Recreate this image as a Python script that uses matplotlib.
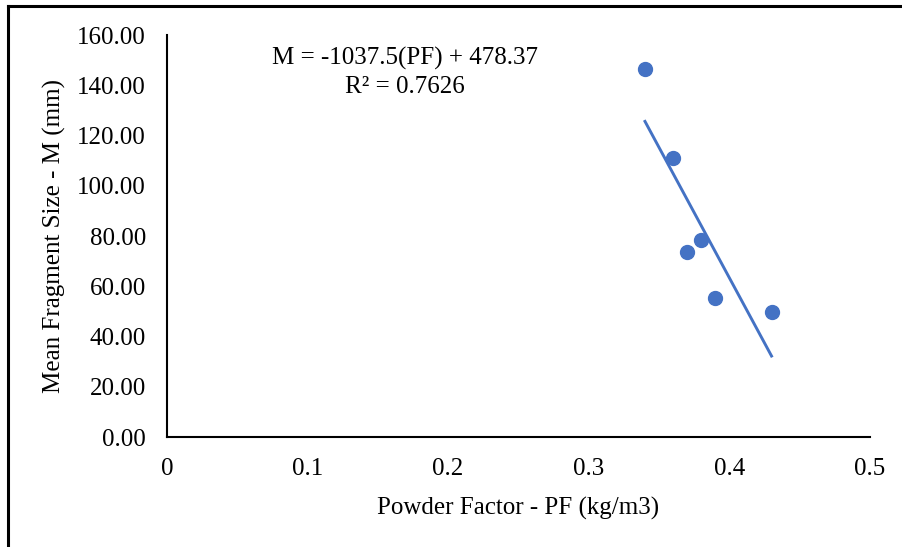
import numpy as np
import matplotlib.pyplot as plt
from matplotlib.lines import Line2D

plt.rcParams['font.family'] = ['Liberation Serif', 'DejaVu Serif']

# данные: удельный расход ВВ и средний размер куска
pf = [0.34, 0.36, 0.37, 0.38, 0.39, 0.43]
m = [146.5, 111.0, 73.6, 78.4, 55.3, 49.8]

slope = -1037.5
intercept = 478.37

fig = plt.figure(figsize=(9.02, 5.47), dpi=100)
ax = fig.add_axes([0.185, 0.201, 0.7795, 0.735])

blue = '#4472C4'
ax.plot(pf, m, 'o', color=blue, markersize=10, zorder=3)

# линия тренда
xt = np.array([min(pf), max(pf)])
ax.plot(xt, slope * xt + intercept, color=blue, linewidth=2.1, zorder=2)

ax.set_xlim(0, 0.5)
ax.set_ylim(0, 160)
ax.set_xticks([0, 0.1, 0.2, 0.3, 0.4, 0.5])
ax.set_xticklabels(['0', '0.1', '0.2', '0.3', '0.4', '0.5'])
ax.set_yticks(np.arange(0, 161, 20))
ax.set_yticklabels([f'{v:.2f}' for v in np.arange(0, 161, 20)])
ax.tick_params(length=0, labelsize=18)
ax.tick_params(axis='y', pad=15)
ax.tick_params(axis='x', pad=15)

for s in ['top', 'right']:
    ax.spines[s].set_visible(False)
for s in ['left', 'bottom']:
    ax.spines[s].set_linewidth(1.5)

ax.set_xlabel('Powder Factor - PF (kg/m3)', fontsize=18, labelpad=12)
ax.set_ylabel('Mean Fragment Size - M (mm)', fontsize=18, labelpad=8)

ax.text(0.169, 150.8, 'M = -1037.5(PF) + 478.37', fontsize=18, ha='center', va='center')
ax.text(0.169, 139.5, 'R² = 0.7626', fontsize=18, ha='center', va='center')

# рамка вокруг рисунка (видны только верх и левый край)
fig.add_artist(Line2D([0.009, 1.0], [0.989, 0.989], color='black', linewidth=2.2, transform=fig.transFigure))
fig.add_artist(Line2D([0.009, 0.009], [0.0, 0.989], color='black', linewidth=2.2, transform=fig.transFigure))

fig.savefig('out.png', dpi=100)
